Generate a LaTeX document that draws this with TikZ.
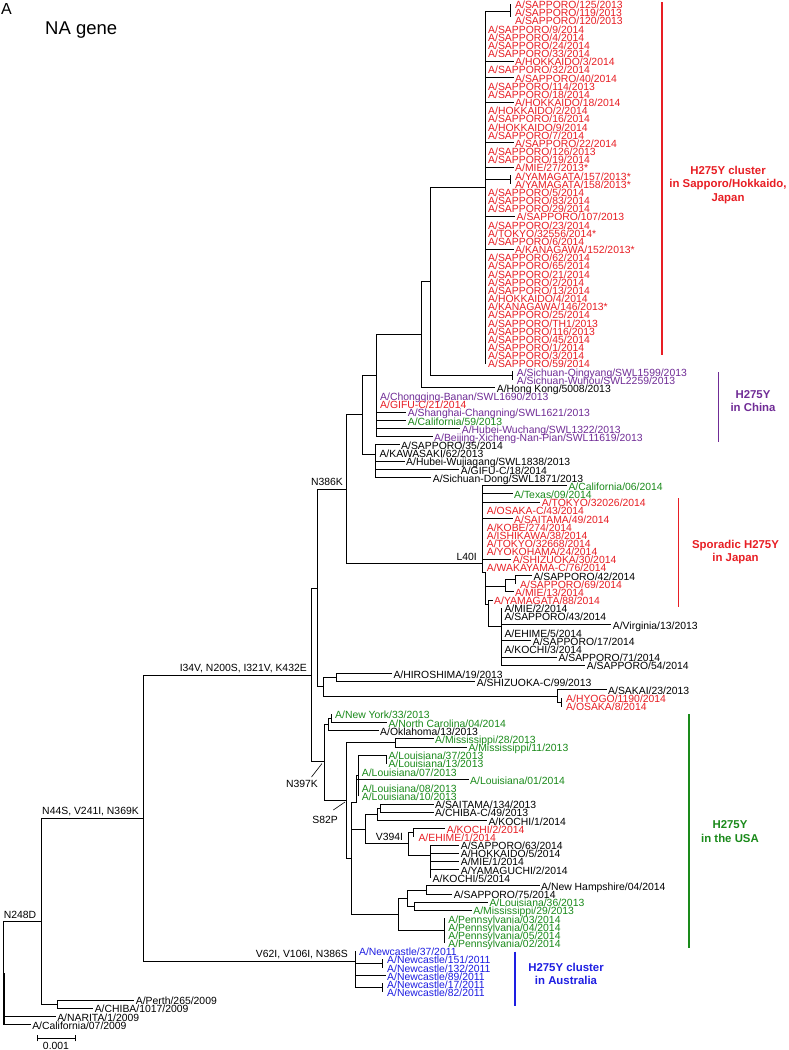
\documentclass[tikz,border=0pt]{standalone}
\usepackage{fontspec}
\setmainfont{Liberation Sans}
\definecolor{cred}{RGB}{232,30,36}
\definecolor{cpur}{RGB}{112,44,150}
\definecolor{cgrn}{RGB}{26,138,26}
\definecolor{cblu}{RGB}{30,30,226}
\newcommand\leafb[5]{%
  \pgfmathsetmacro\yy{4+8.165*(#3)}%
  \pgfmathsetmacro\xe{#2-1.8}%
  \draw[br] (#1,\yy) -- (\xe,\yy);%
  \node[lab,text=#4] (n#3) at (#2,{\yy+4.6}) {#5};}
\newcommand\leafz[4]{%
  \pgfmathsetmacro\yy{4+8.165*(#2)}%
  \node[lab,text=#3] (n#2) at (#1,{\yy+4.6}) {#4};}
\begin{document}
\begin{tikzpicture}[x=1pt,y=-1pt,
  declare function={sl(\k)=4+8.165*\k;},
  br/.style={line width=0.9pt,line cap=rect},
  lab/.style={anchor=base west,inner sep=0pt,font=\fontsize{10.4}{12}\selectfont},
  mut/.style={anchor=base east,inner sep=0pt,font=\fontsize{10.4}{12}\selectfont},
  clade/.style={align=center,inner sep=0pt,font=\bfseries\fontsize{11.4}{13.3}\selectfont},
  bar/.style={line width=1.6pt}]
\fill[white] (0,0) rectangle (789,1050);
\useasboundingbox (0,0) rectangle (789,1050);
% titles
\node[anchor=west,inner sep=0pt,font=\fontsize{16}{18}\selectfont] (tA) at (1,9) {A};
\node[anchor=west,inner sep=0pt,font=\fontsize{18.5}{20}\selectfont] (tNA) at (45,30) {NA gene};
% ===== Sapporo cluster =====
\draw[br] (485,11) -- (485,{sl(44)});
\draw[br] (485,11) -- (510,11);
\draw[br] (510,{sl(0)}) -- (510,16.5);
\leafz{515}{0}{cred}{A/SAPPORO/125/2013}
\leafz{515}{1}{cred}{A/SAPPORO/119/2013}
\leafz{515}{2}{cred}{A/SAPPORO/120/2013}
\leafz{488}{3}{cred}{A/SAPPORO/9/2014}
\leafz{488}{4}{cred}{A/SAPPORO/4/2014}
\leafz{488}{5}{cred}{A/SAPPORO/24/2014}
\leafz{488}{6}{cred}{A/SAPPORO/33/2014}
\leafb{485}{515}{7}{cred}{A/HOKKAIDO/3/2014}
\leafz{488}{8}{cred}{A/SAPPORO/32/2014}
\leafb{485}{515}{9}{cred}{A/SAPPORO/40/2014}
\leafz{488}{10}{cred}{A/SAPPORO/114/2013}
\leafz{488}{11}{cred}{A/SAPPORO/18/2014}
\leafb{485}{515}{12}{cred}{A/HOKKAIDO/18/2014}
\leafz{488}{13}{cred}{A/HOKKAIDO/2/2014}
\leafz{488}{14}{cred}{A/SAPPORO/16/2014}
\leafz{488}{15}{cred}{A/HOKKAIDO/9/2014}
\leafz{488}{16}{cred}{A/SAPPORO/7/2014}
\leafb{485}{515}{17}{cred}{A/SAPPORO/22/2014}
\leafz{488}{18}{cred}{A/SAPPORO/126/2013}
\leafz{488}{19}{cred}{A/SAPPORO/19/2014}
\leafb{485}{515}{20}{cred}{A/MIE/27/2013*}
\draw[br] (485,{(sl(21)+sl(22))/2}) -- (510,{(sl(21)+sl(22))/2});
\draw[br] (510,{sl(21)}) -- (510,{sl(22)});
\leafz{515}{21}{cred}{A/YAMAGATA/157/2013*}
\leafz{515}{22}{cred}{A/YAMAGATA/158/2013*}
\leafz{488}{23}{cred}{A/SAPPORO/5/2014}
\leafz{488}{24}{cred}{A/SAPPORO/83/2014}
\leafz{488}{25}{cred}{A/SAPPORO/29/2014}
\leafb{485}{516.5}{26}{cred}{A/SAPPORO/107/2013}
\leafz{488}{27}{cred}{A/SAPPORO/23/2014}
\leafz{488}{28}{cred}{A/TOKYO/32556/2014*}
\leafz{488}{29}{cred}{A/SAPPORO/6/2014}
\leafb{485}{515}{30}{cred}{A/KANAGAWA/152/2013*}
\leafz{488}{31}{cred}{A/SAPPORO/62/2014}
\leafz{488}{32}{cred}{A/SAPPORO/65/2014}
\leafz{488}{33}{cred}{A/SAPPORO/21/2014}
\leafz{488}{34}{cred}{A/SAPPORO/2/2014}
\leafz{488}{35}{cred}{A/SAPPORO/13/2014}
\leafz{488}{36}{cred}{A/HOKKAIDO/4/2014}
\leafz{488}{37}{cred}{A/KANAGAWA/146/2013*}
\leafz{488}{38}{cred}{A/SAPPORO/25/2014}
\leafz{488}{39}{cred}{A/SAPPORO/TH1/2013}
\leafz{488}{40}{cred}{A/SAPPORO/116/2013}
\leafz{488}{41}{cred}{A/SAPPORO/45/2014}
\leafz{488}{42}{cred}{A/SAPPORO/1/2014}
\leafz{488}{43}{cred}{A/SAPPORO/3/2014}
\leafz{488}{44}{cred}{A/SAPPORO/59/2014}
\draw[bar,cred] (661.7,2) -- (661.7,355);
\node[clade,text=cred] (cl1) at (728,185) {H275Y cluster\\in Sapporo/Hokkaido,\\Japan};
% ===== nodes A,B =====
\draw[br] (430.7,187) -- (485,187);
\draw[br] (430.7,187) -- (430.7,375.5);
\draw[br] (430.7,375.5) -- (512,375.5);
\draw[br] (512,{sl(45)}) -- (512,{sl(46)});
\leafz{516.7}{45}{cpur}{A/Sichuan-Qingyang/SWL1599/2013}
\leafz{516.7}{46}{cpur}{A/Sichuan-Wuhou/SWL2259/2013}
\draw[br] (421.7,281) -- (430.7,281);
\draw[br] (421.7,281) -- (421.7,{sl(47)});
\leafb{421.7}{496.7}{47}{black}{A/Hong Kong/5008/2013}
% C
\draw[br] (376.7,334) -- (421.7,334);
\draw[br] (376.7,334) -- (376.7,{sl(53)});
\leafz{380}{48}{cpur}{A/Chongqing-Banan/SWL1690/2013}
\leafz{380}{49}{cred}{A/GIFU-C/21/2014}
\leafb{376.7}{407.7}{50}{cpur}{A/Shanghai-Changning/SWL1621/2013}
\leafb{376.7}{407.7}{51}{cgrn}{A/California/59/2013}
\leafb{376.7}{461.7}{52}{cpur}{A/Hubei-Wuchang/SWL1322/2013}
\leafb{376.7}{434}{53}{cpur}{A/Beijing-Xicheng-Nan-Pian/SWL11619/2013}
\draw[bar,cpur] (718.3,372) -- (718.3,441.7);
\node[clade,text=cpur] (cl2) at (753,401) {H275Y\\in China};
% D, E
\draw[br] (362.7,375) -- (376.7,375);
\draw[br] (362.7,375) -- (362.7,454);
\draw[br] (362.7,454) -- (375.7,454);
\draw[br] (375.7,{sl(54)}) -- (375.7,{sl(58)});
\leafb{375.7}{401}{54}{black}{A/SAPPORO/35/2014}
\leafz{379.3}{55}{black}{A/KAWASAKI/62/2013}
\leafb{375.7}{406}{56}{black}{A/Hubei-Wujiagang/SWL1838/2013}
\leafb{375.7}{460.7}{57}{black}{A/GIFU-C/18/2014}
\leafb{375.7}{432.7}{58}{black}{A/Sichuan-Dong/SWL1871/2013}
% F and L40I clade
\draw[br] (346,414.5) -- (362.7,414.5);
\draw[br] (346,414.5) -- (346,563.3);
\draw[br] (346,563.3) -- (482.5,563.3);
\node[mut] (m1) at (477,560.5) {L40I};
\draw[br] (482.5,{sl(59)}) -- (482.5,572);
\leafb{482.5}{568.3}{59}{cgrn}{A/California/06/2014}
\leafb{482.5}{514}{60}{cgrn}{A/Texas/09/2014}
\leafb{482.5}{541.7}{61}{cred}{A/TOKYO/32026/2014}
\leafz{486.7}{62}{cred}{A/OSAKA-C/43/2014}
\leafb{482.5}{514}{63}{cred}{A/SAITAMA/49/2014}
\leafz{486.7}{64}{cred}{A/KOBE/274/2014}
\leafz{486.7}{65}{cred}{A/ISHIKAWA/38/2014}
\leafz{486.7}{66}{cred}{A/TOKYO/32668/2014}
\leafz{486.7}{67}{cred}{A/YOKOHAMA/24/2014}
\leafb{482.5}{512.7}{68}{cred}{A/SHIZUOKA/30/2014}
\leafz{486.7}{69}{cred}{A/WAKAYAMA-C/76/2014}
\draw[br] (482.5,572) -- (485,572) -- (485,604);
\draw[br] (485,586) -- (505.7,586);
\draw[br] (505.7,579.6) -- (505.7,{sl(72)});
\draw[br] (505.7,579.6) -- (515,579.6);
\draw[br] (515,{sl(70)}) -- (515,{sl(71)});
\leafb{515}{533.3}{70}{black}{A/SAPPORO/42/2014}
\leafz{520}{71}{cred}{A/SAPPORO/69/2014}
\leafb{505.7}{515}{72}{cred}{A/MIE/13/2014}
\draw[br] (485,604) -- (488.3,604);
\draw[br] (488.3,{sl(73)}) -- (488.3,626);
\leafb{488.3}{494}{73}{cred}{A/YAMAGATA/88/2014}
\draw[br] (488.3,626) -- (501.7,626);
\draw[br] (501.7,{sl(74)}) -- (501.7,{sl(81)});
\leafz{504.3}{74}{black}{A/MIE/2/2014}
\leafz{504.3}{75}{black}{A/SAPPORO/43/2014}
\leafb{501.7}{612.7}{76}{black}{A/Virginia/13/2013}
\leafz{504.3}{77}{black}{A/EHIME/5/2014}
\leafb{501.7}{532.7}{78}{black}{A/SAPPORO/17/2014}
\leafz{504.3}{79}{black}{A/KOCHI/3/2014}
\leafb{501.7}{558.3}{80}{black}{A/SAPPORO/71/2014}
\leafb{501.7}{586.7}{81}{black}{A/SAPPORO/54/2014}
\draw[bar,cred] (678.3,498.3) -- (678.3,607);
\node[clade,text=cred] (cl3) at (735.5,552.3) {Sporadic H275Y\\in Japan};
% G, H, J, K
\draw[br] (317,489) -- (346,489);
\node[mut] (m2) at (343,485.5) {N386K};
\draw[br] (317,489) -- (317,686.8);
\draw[br] (311.7,588) -- (317,588);
\draw[br] (311.7,588) -- (311.7,761.7);
\draw[br] (317,686.8) -- (323.3,686.8);
\draw[br] (323.3,677.6) -- (323.3,696);
\draw[br] (323.3,677.6) -- (336.7,677.6);
\draw[br] (336.7,{sl(82)}) -- (336.7,{sl(83)});
\leafb{336.7}{393.3}{82}{black}{A/HIROSHIMA/19/2013}
\leafb{336.7}{476.7}{83}{black}{A/SHIZUOKA-C/99/2013}
\draw[br] (323.3,696) -- (557,696);
\draw[br] (557,{sl(84)}) -- (557,702.1);
\leafb{557}{608}{84}{black}{A/SAKAI/23/2013}
\draw[br] (557,702.1) -- (561.7,702.1);
\draw[br] (561.7,{sl(85)}) -- (561.7,{sl(86)});
\leafz{566}{85}{cred}{A/HYOGO/1190/2014}
\leafz{566}{86}{cred}{A/OSAKA/8/2014}
% I34V
\draw[br] (143.3,675) -- (311.7,675);
\node[mut] (m3) at (307,671.5) {I34V, N200S, I321V, K432E};
% USA clade
\draw[br] (311.7,761.7) -- (324,761.7);
\draw[br] (324,724.6) -- (324,800.7);
\node[mut] (m4) at (318,787.5) {N397K};
\draw[line width=0.6pt] (311.5,777) -- (322,763.5);
\draw[br] (324,724.6) -- (328.3,724.6);
\draw[br] (328.3,718.4) -- (328.3,{sl(89)});
\draw[br] (328.3,718.4) -- (331.7,718.4);
\draw[br] (331.7,{sl(87)}) -- (331.7,{sl(88)});
\leafz{335}{87}{cgrn}{A/New York/33/2013}
\leafb{331.7}{388.3}{88}{cgrn}{A/North Carolina/04/2014}
\leafb{328.3}{380}{89}{black}{A/Oklahoma/13/2013}
\draw[br] (324,800.7) -- (346.7,800.7);
\draw[br] (346.7,742.9) -- (346.7,858.5);
\node[mut] (m5) at (338,823.5) {S82P};
\draw[line width=0.6pt] (333.3,810) -- (345,802);
\draw[br] (346.7,742.9) -- (395,742.9);
\draw[br] (395,{sl(90)}) -- (395,{sl(91)});
\leafb{395}{435}{90}{cgrn}{A/Mississippi/28/2013}
\leafb{395}{468.3}{91}{cgrn}{A/Mississippi/11/2013}
\draw[br] (346.7,858.5) -- (351.7,858.5);
\draw[br] (351.7,802.5) -- (351.7,914.5);
\draw[br] (351.7,802.5) -- (356,802.5);
\draw[br] (356,775.6) -- (356,802.5);
\draw[br] (356,775.6) -- (358.3,775.6);
\draw[br] (358.3,{sl(92)}) -- (358.3,{sl(97)});
\draw[br] (358.3,{sl(92)}) -- (386.7,{sl(92)});
\draw[br] (386.7,{sl(92)}) -- (386.7,{sl(93)});
\leafz{388.3}{92}{cgrn}{A/Louisiana/37/2013}
\leafz{388.3}{93}{cgrn}{A/Louisiana/13/2013}
\leafz{361.7}{94}{cgrn}{A/Louisiana/07/2013}
\leafb{356}{470}{95}{cgrn}{A/Louisiana/01/2014}
\leafz{361.7}{96}{cgrn}{A/Louisiana/08/2013}
\leafz{361.7}{97}{cgrn}{A/Louisiana/10/2013}
\draw[br] (351.7,829) -- (365,829);
\draw[br] (365,814.3) -- (365,843.3);
\draw[br] (365,814.3) -- (377,814.3);
\draw[br] (377,808.2) -- (377,{sl(100)});
\draw[br] (377,808.2) -- (380,808.2);
\draw[br] (380,{sl(98)}) -- (380,{sl(99)});
\leafb{380}{435}{98}{black}{A/SAITAMA/134/2013}
\leafb{380}{435}{99}{black}{A/CHIBA-C/49/2013}
\leafb{377}{488.3}{100}{black}{A/KOCHI/1/2014}
\draw[br] (365,843.3) -- (408.3,843.3);
\node[mut] (m6) at (403.3,840.5) {V394I};
\draw[br] (408.3,832.7) -- (408.3,855);
\draw[br] (408.3,832.7) -- (413.3,832.7);
\draw[br] (413.3,{sl(101)}) -- (413.3,{sl(102)});
\leafb{413.3}{446.7}{101}{cred}{A/KOCHI/2/2014}
\leafz{418.3}{102}{cred}{A/EHIME/1/2014}
\draw[br] (408.3,855) -- (430,855);
\draw[br] (430,{sl(103)}) -- (430,{sl(107)});
\leafb{430}{460.7}{103}{black}{A/SAPPORO/63/2014}
\leafb{430}{460.7}{104}{black}{A/HOKKAIDO/5/2014}
\leafb{430}{460.7}{105}{black}{A/MIE/1/2014}
\leafb{430}{460.7}{106}{black}{A/YAMAGUCHI/2/2014}
\leafz{432.5}{107}{black}{A/KOCHI/5/2014}
\draw[br] (351.7,914.5) -- (398.2,914.5);
\draw[br] (398.2,898.3) -- (398.2,930.8);
\draw[br] (398.2,898.3) -- (407,898.3);
\draw[br] (407,890) -- (407,906.2);
\draw[br] (407,890) -- (426.8,890);
\draw[br] (426.8,{sl(108)}) -- (426.8,{sl(109)});
\leafb{426.8}{541}{108}{black}{A/New Hampshire/04/2014}
\leafb{426.8}{453.6}{109}{black}{A/SAPPORO/75/2014}
\draw[br] (407,906.2) -- (414.3,906.2);
\draw[br] (414.3,{sl(110)}) -- (414.3,{sl(111)});
\leafb{414.3}{489.3}{110}{cgrn}{A/Louisiana/36/2013}
\leafb{414.3}{473.2}{111}{cgrn}{A/Mississippi/29/2013}
\draw[br] (398.2,930.8) -- (444.6,930.8);
\draw[br] (444.6,{sl(112)}) -- (444.6,{sl(115)});
\leafz{448.2}{112}{cgrn}{A/Pennsylvania/03/2014}
\leafz{448.2}{113}{cgrn}{A/Pennsylvania/04/2014}
\leafz{448.2}{114}{cgrn}{A/Pennsylvania/05/2014}
\leafz{448.2}{115}{cgrn}{A/Pennsylvania/02/2014}
\draw[bar,cgrn] (689,714) -- (689,948.3);
\node[clade,text=cgrn] (cl4) at (730,831.7) {H275Y\\in the USA};
% Newcastle
\draw[br] (143.3,675) -- (143.3,961);
\draw[br] (143.3,961) -- (355.4,961);
\node[mut] (m7) at (348,957.5) {V62I, V106I, N386S};
\draw[br] (355.4,{sl(116)}) -- (355.4,{sl(120.5)});
\leafz{358.9}{116}{cblu}{A/Newcastle/37/2011}
\draw[br] (355.4,{sl(117.5)}) -- (382,{sl(117.5)});
\draw[br] (382,{sl(117)}) -- (382,{sl(118)});
\leafz{387}{117}{cblu}{A/Newcastle/151/2011}
\leafz{387}{118}{cblu}{A/Newcastle/132/2011}
\leafb{355.4}{387}{119}{cblu}{A/Newcastle/89/2011}
\draw[br] (355.4,{sl(120.5)}) -- (382,{sl(120.5)});
\draw[br] (382,{sl(120)}) -- (382,{sl(121)});
\leafz{387}{120}{cblu}{A/Newcastle/17/2011}
\leafz{387}{121}{cblu}{A/Newcastle/82/2011}
\draw[bar,cblu] (515,951.7) -- (515,1005.7);
\node[clade,text=cblu] (cl5) at (566,974) {H275Y cluster\\in Australia};
% root part
\draw[br] (41,818) -- (143.3,818);
\node[mut] (m8) at (139,814.5) {N44S, V241I, N369K};
\draw[br] (41,818) -- (41,1004.2);
\draw[br] (41,1004.2) -- (57.1,1004.2);
\draw[br] (57.1,{sl(122)}) -- (57.1,{sl(123)});
\leafb{57.1}{135.7}{122}{black}{A/Perth/265/2009}
\leafb{57.1}{94.6}{123}{black}{A/CHIBA/1017/2009}
\draw[br] (3.6,921.7) -- (41,921.7);
\node[lab] (m9) at (3.6,918) {N248D};
\draw[br] (3.6,921.7) -- (3.6,{sl(125)});
\draw[line width=2pt] (3.6,973) -- (3.6,1025);
\leafb{3.6}{57.1}{124}{black}{A/NARITA/1/2009}
\leafb{3.6}{32.1}{125}{black}{A/California/07/2009}
% scale bar
\draw[br] (37.5,1038.3) -- (75,1038.3);
\draw[br] (37.5,1035.5) -- (37.5,1041);
\draw[br] (75,1035.5) -- (75,1041);
\node[inner sep=0pt,font=\fontsize{10.4}{12}\selectfont] (sb) at (56,1045.5) {0.001};
\end{tikzpicture}
\end{document}
